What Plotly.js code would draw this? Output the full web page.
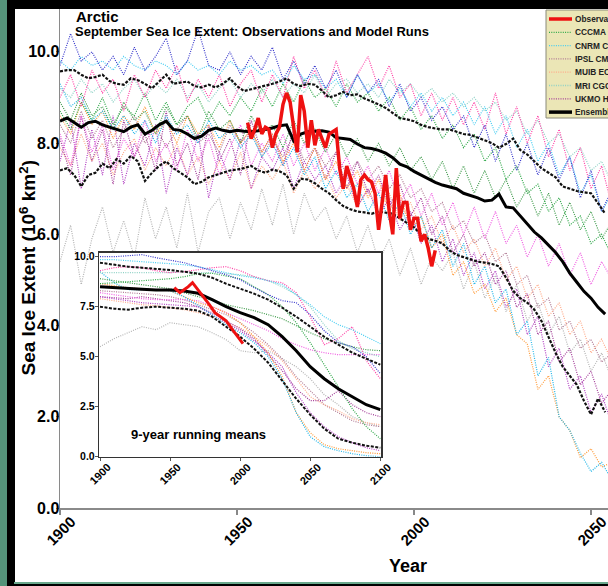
<!DOCTYPE html>
<html><head><meta charset="utf-8">
<script src="https://cdn.plot.ly/plotly-3.0.1.min.js"></script>
<style>
html,body{margin:0;padding:0;width:608px;height:586px;overflow:hidden;background:#55937a;}
#blk{position:absolute;left:7px;top:0;width:601px;height:586px;background:#000;}
#gl{position:absolute;left:14px;top:582px;width:594px;height:2px;background:#6aa88c;}
#chart{position:absolute;left:15px;top:9px;width:593px;height:573px;background:#fff;overflow:hidden;}
</style></head><body>
<div id="blk"></div><div id="gl"></div><div id="chart"></div>
<script>
// ---------- main panel: annual model runs (sampled every 3 years) ----------
const years3 = [1900,1903,1906,1909,1912,1915,1918,1921,1924,1927,1930,1933,1936,1939,1942,1945,1948,1951,1954,1957,1960,1963,1966,1969,1972,1975,1978,1981,1984,1987,1990,1993,1996,1999,2002,2005,2008,2011,2014,2017,2020,2023,2026,2029,2032,2035,2038,2041,2044,2047,2050,2053,2056];
const runBlue    = [9.7,10.4,9.8,10.0,9.6,9.9,9.5,10.1,9.6,9.9, 10.3,9.5,9.8,10.5,9.7,9.6,10.0,9.5,9.9,9.6, 10.1,9.4,9.8,9.3,9.7,9.2,9.6,9.0,9.5,9.1, 9.4,8.8,9.3,8.7,9.0,8.5,8.8,8.3,8.6,7.9, 8.4,7.6,8.2,7.4,8.0,7.3,7.9,7.2,7.7,6.8, 7.4,6.5,7.0];
const runCNRM    = [9.8,9.6,9.9,9.7,9.8,9.6,9.9,9.7,9.6,9.8, 9.7,9.5,9.8,9.6,9.7,9.5,9.8,9.6,9.7,9.5, 9.6,9.3,9.7,9.4,9.5,9.2,9.4,9.0,9.5,9.1, 9.3,8.9,9.2,8.8,9.1,8.7,9.0,8.6,8.9,8.4, 8.8,8.2,8.6,7.9,8.3,7.6,8.0,7.3,7.7,6.9, 7.3,6.5,6.9];
const runPink    = [9.0,9.5,8.8,9.6,9.1,9.4,8.7,9.5,9.0,9.6, 9.2,9.7,8.9,9.4,9.0,9.5,8.8,9.3,9.6,8.9, 9.5,9.0,9.9,9.2,9.6,9.0,9.8,9.1,9.5,9.9, 9.2,9.7,9.0,9.3,8.6,9.1,8.5,9.0,8.4,8.9, 8.3,9.1,8.2,8.8,8.0,8.6,7.7,8.3,7.4,7.9, 7.0,7.5,6.6];
const runCCCMA   = [8.7,8.3,8.9,8.5,9.0,8.4,8.8,8.6,9.1,8.5, 8.9,8.4,8.8,9.0,8.5,8.9,8.6,9.0,8.7,9.2, 8.8,9.3,8.9,9.4,9.0,9.2,8.8,9.3,8.9,9.1, 8.7,9.0,8.5,8.8,8.3,8.6,8.1,8.4,7.9,8.2, 7.6,7.9,7.2,7.5,6.9,7.1,6.5,6.8,6.2,6.4, 5.8,6.0,5.5];
const runGreen2  = [8.9,8.5,9.1,8.6,8.8,8.3,8.9,8.5,8.7,8.2, 8.8,8.4,8.6,8.1,8.7,8.3,8.5,8.0,8.6,8.2, 8.4,7.9,8.5,8.0,8.3,7.8,8.2,7.7,8.1,7.6, 8.0,7.5,7.9,7.4,7.7,7.2,7.6,7.0,7.5,6.9, 7.4,6.8,7.2,6.6,7.0,6.4,6.9,6.2,6.7,6.1, 6.5,5.9,6.3];
const runViolet  = [7.6,8.5,7.0,8.3,7.3,8.6,7.1,8.0,7.5,8.4, 6.9,7.9,7.3,8.2,6.8,7.8,7.2,8.1,7.0,7.7, 7.4,7.9,7.0,7.6,7.2,7.5,6.9,7.3,6.6,7.0, 6.4,6.8,6.1,6.5,5.8,6.2,5.4,5.9,5.1,5.6, 4.8,5.2,4.4,4.8,3.8,4.2,3.1,3.5,2.6,2.9, 2.1,2.5,1.8];
const runMagenta = [8.2,7.5,8.6,7.8,8.4,7.4,8.1,7.7,8.5,7.6, 8.0,7.4,8.3,7.6,8.1,7.3,7.9,8.4,7.5,8.0, 7.6,8.2,7.5,8.0,7.4,7.9,7.3,7.7,7.1,7.5, 6.9,7.4,6.7,7.1,6.4,6.9,6.2,6.7,6.0,6.6, 5.9,6.5,5.8,6.2,5.5,6.0,5.3,5.8,5.1,5.6, 4.9,5.4,5.0];
const runOrange  = [8.6,8.2,8.9,8.4,8.7,8.1,8.6,8.3,8.8,8.2, 8.5,8.0,8.6,8.2,8.4,7.9,8.5,8.0,8.3,7.8, 8.2,7.6,8.0,7.4,7.9,7.2,7.6,7.0,7.4,6.8, 7.2,6.5,6.9,6.1,6.4,5.7,6.0,5.1,5.4,4.7, 4.9,4.3,4.6,3.8,3.6,2.6,2.9,2.0,1.7,1.1, 1.3,0.9,1.0];
const runCyan2   = [9.3,8.8,9.0,8.5,8.7,8.3,8.6,8.2,8.5,8.0, 8.6,8.2,8.4,8.0,8.5,8.1,8.3,7.9,8.2,7.7, 8.0,7.5,7.9,7.3,7.7,7.0,7.4,6.8,7.1,6.5, 6.9,6.3,6.7,6.0,6.4,5.7,6.1,5.3,5.8,4.9, 5.3,4.5,4.8,3.8,4.1,2.9,3.3,2.0,1.7,1.2, 0.8,1.0,0.6];
const runGrey    = [5.4,6.2,4.9,5.9,6.6,5.6,6.3,5.5,6.8,5.9, 6.6,5.7,6.9,5.6,6.5,6.8,5.9,6.7,6.1,7.0, 6.2,7.1,6.0,6.9,6.3,6.6,5.9,6.4,5.6,6.2, 5.4,5.9,5.1,5.7,4.9,5.5,5.2,5.6,4.8,5.4, 4.6,5.1,4.3,4.9,4.1,4.5,3.8,4.2,3.4,3.7, 3.0,3.4,2.8];
const runMUIB    = [7.9,7.5,8.2,7.6,8.0,7.3,7.8,8.1,7.4,7.9, 7.5,8.0,7.3,7.7,7.1,7.6,7.2,7.8,7.0,7.5, 7.2,7.6,6.9,7.4,7.0,7.3,6.8,7.1,6.6,7.0, 6.5,6.9,6.3,6.7,6.1,6.4,5.8,6.2,5.6,5.9, 5.3,5.7,5.0,5.3,4.6,4.9,4.2,4.5,3.8,4.1, 3.4,3.7,3.2];
const runMRI     = [9.2,9.0,9.4,9.1,9.3,8.9,9.2,9.4,9.0,9.3, 9.1,9.4,9.0,9.3,8.9,9.2,9.4,9.0,9.3,9.1, 9.4,9.0,9.3,9.1,9.5,9.0,9.3,9.4,9.1,9.3, 9.0,9.4,9.1,9.3,9.0,9.2,8.9,9.1,8.8,9.0, 8.7,8.9,8.5,8.7,8.2,8.5,8.0,8.2,7.7,7.9, 7.4,7.6,7.1];
const runUKMO    = [8.1,7.3,8.6,7.6,8.3,7.1,8.5,7.7,8.2,7.4, 8.7,7.5,8.0,7.2,8.4,7.6,8.1,7.3,8.5,7.8, 8.2,7.5,8.3,7.4,7.9,7.2,7.8,7.0,7.6,6.9, 7.3,6.6,7.1,6.4,6.8,6.0,6.4,5.6,6.0,5.3, 5.6,4.9,5.2,4.4,4.7,3.8,4.1,3.2,3.5,2.7, 3.0,2.3,2.6];
const runIPSL    = [8.4,8.0,8.7,8.1,8.5,7.9,8.3,8.6,8.0,8.4, 7.9,8.3,8.6,8.0,8.2,7.8,8.4,8.0,8.3,7.7, 8.1,7.7,8.2,7.6,7.9,7.5,7.8,7.3,7.6,7.2, 7.5,7.0,7.3,6.8,7.0,6.5,6.7,6.1,6.3,5.8, 6.0,5.4,5.6,4.9,5.1,4.4,4.6,3.9,4.1,3.5, 3.7,3.2,3.4];

// ---------- main panel: ensemble mean and +/- one standard deviation ----------
const ensYears = [1900,1902,1904,1906,1908,1910,1912,1914,1916,1918,1920,1922,1924,1926,1928,1930,1932,1934,1936,1938,1940,1942,1944,1946,1948,1950,1952,1954,1956,1958,1960,1962,1964,1966,1968,1970,1972,1974,1976,1978,1980,1982,1984,1986,1988,1990,1992,1994,1996,1998,2000,2002,2004,2006,2008,2010,2012,2014,2016,2018,2020,2022,2024,2026,2028,2030,2032,2034,2036,2038,2040,2042,2044,2046,2048,2050,2052,2054];
const ensMean  = [8.48,8.55,8.45,8.35,8.45,8.48,8.40,8.35,8.30,8.25, 8.35,8.40,8.20,8.28,8.40,8.48,8.30,8.28,8.20,8.10, 8.15,8.28,8.33,8.28,8.25,8.28,8.26,8.25,8.27,8.30, 8.33,8.38,8.40,8.05,8.20,8.25,8.26,8.27,8.24,8.12, 8.10,8.08,7.98,7.90,7.88,7.84,7.78,7.68,7.54,7.48, 7.38,7.30,7.22,7.14,7.08,7.04,7.00,6.90,6.85,6.80, 6.73,6.75,6.88,6.60,6.58,6.40,6.22,6.05,5.92,5.75, 5.60,5.40,5.15,4.95,4.75,4.60,4.40,4.25];
const ensUpper = [9.57,9.60,9.60,9.50,9.42,9.45,9.50,9.36,9.30,9.28, 9.42,9.38,9.30,9.20,9.35,9.50,9.30,9.32,9.35,9.25, 9.22,9.28,9.22,9.30,9.42,9.25,9.14,9.18,9.22,9.25, 9.30,9.35,9.42,9.30,9.25,9.30,9.28,9.15,9.00,9.05, 9.12,9.05,9.07,8.98,8.92,8.85,8.77,8.65,8.55,8.52, 8.48,8.40,8.35,8.32,8.30,8.30,8.25,8.20,8.18,8.12, 8.06,8.00,7.90,7.98,8.10,7.85,7.75,7.60,7.45,7.35, 7.25,7.05,7.00,6.95,6.92,6.90,6.68,6.45];
const ensLower = [7.40,7.45,7.30,7.05,7.30,7.35,7.55,7.45,7.65,7.55, 7.72,7.60,7.17,7.35,7.50,7.60,7.45,7.35,7.25,7.10, 7.15,7.25,7.30,7.35,7.40,7.42,7.45,7.50,7.40,7.35, 7.42,7.38,7.30,7.00,7.22,7.20,7.12,7.00,6.90,6.75, 6.62,6.55,6.50,6.48,6.45,6.50,6.48,6.45,6.35,6.25, 6.15,6.00,5.90,5.86,5.80,5.65,5.55,5.50,5.45,5.40, 5.38,5.35,5.30,5.05,4.76,4.60,4.50,4.35,4.10,3.75, 3.40,3.10,2.90,2.70,2.35,2.05,2.40,2.10];

// ---------- observations ----------
const obsYears = [1953,1954,1955,1956,1957,1958,1959,1960,1961,1962,1963,1964,1965,1966,1967,1968,1969,1970,1971,1972,1973,1974,1975,1976,1977,1978,1979,1980,1981,1982,1983,1984,1985,1986,1987,1988,1989,1990,1991,1992,1993,1994,1995,1996,1997,1998,1999,2000,2001,2002,2003,2004,2005,2006];
const obsExtent = [8.45,8.10,8.30,8.55,8.20,8.35,8.30,7.90,8.20,8.35, 8.85,9.10,8.90,8.30,7.80,9.05,8.70,7.90,8.50,7.95, 8.30,8.10,7.90,8.20,8.25,8.30,7.45,7.00,7.50,7.25, 7.00,6.60,7.20,7.30,7.20,7.15,6.90,6.10,6.70,7.30, 6.50,6.00,7.45,6.35,6.70,6.70,6.10,6.35,6.35,5.85, 6.00,5.70,5.30,5.65];

// ---------- inset: 9-year running means ----------
const decYears = [1900,1910,1920,1930,1940,1950,1960,1970,1980,1990,2000,2010,2020,2030,2040,2050,2060,2070,2080,2090,2100];
const rmBlue    = [10.0,10.0,10.05,10.1,9.95,9.83,9.7,9.5,9.3,9.1,8.85,8.45,8.1,7.8,7.7,7.1,6.3,5.7,5.5,5.0,4.15];
const rmCNRM    = [9.85,9.85,9.8,9.75,9.7,9.65,9.6,9.5,9.35,9.2,9.05,8.95,8.8,8.6,8.1,7.6,7.0,6.6,6.35,6.0,5.65];
const rmPink    = [9.3,9.45,9.5,9.45,9.3,9.2,9.25,9.35,9.45,9.5,9.3,9.0,8.8,8.7,8.2,7.0,5.6,5.9,6.5,4.8,3.9];
const rmCCCMA   = [8.65,8.7,8.75,8.8,8.83,8.9,9.0,9.15,9.17,9.05,8.9,8.5,8.1,7.5,6.7,5.7,4.6,3.5,2.4,1.5,0.9];
const rmGreen2  = [8.9,8.8,8.7,8.6,8.5,8.4,8.2,8.0,7.85,7.6,7.45,7.3,7.1,6.9,6.55,6.2,5.9,5.7,5.5,5.35,5.3];
const rmViolet  = [8.0,7.9,7.8,7.7,7.65,7.6,7.55,7.5,7.1,6.7,6.3,5.8,5.2,4.5,3.2,2.2,1.5,1.0,0.7,0.45,0.3];
const rmMagenta = [8.2,8.1,8.0,7.9,7.85,7.85,7.85,7.8,7.5,7.2,6.9,6.6,6.3,5.9,5.6,5.35,5.2,5.1,5.1,5.1,5.1];
const rmOrange  = [8.65,8.55,8.45,8.4,8.35,8.3,8.0,7.7,7.5,7.2,6.7,6.0,5.2,4.0,2.2,1.2,0.6,0.4,0.3,0.2,0.15];
const rmCyan2   = [9.25,8.7,8.35,8.35,8.35,8.3,8.0,7.55,7.1,6.6,6.2,5.7,5.0,3.9,2.2,1.0,0.5,0.3,0.15,0.05,0.0];
const rmGrey    = [5.5,5.9,6.2,6.5,6.35,6.7,6.6,6.5,6.2,5.85,5.3,5.2,5.3,4.9,4.5,3.9,3.1,2.6,2.0,1.7,1.5];
const rmMUIB    = [7.9,7.8,7.7,7.6,7.55,7.45,7.35,7.2,7.0,6.7,6.45,6.0,5.5,4.8,3.9,3.0,2.6,2.3,1.9,1.7,1.6];
const rmMRI     = [9.2,9.2,9.2,9.2,9.2,9.2,9.25,9.2,9.2,9.15,9.1,9.0,8.8,8.5,8.1,7.5,6.6,5.8,5.4,5.2,5.0];
const rmUKMO    = [8.0,7.95,7.9,8.0,7.9,7.8,7.7,7.5,7.2,6.8,6.4,5.9,5.1,4.3,3.4,2.8,2.8,3.3,2.6,2.2,2.0];
const rmIPSL    = [8.3,8.25,8.2,8.15,8.1,8.0,7.85,7.6,7.35,7.1,6.7,6.2,5.6,4.9,4.0,3.3,2.6,2.2,1.8,1.6,1.5];
const rmEnsMean  = [8.5,8.45,8.4,8.37,8.34,8.33,8.28,8.17,7.85,7.5,7.2,6.95,6.6,6.0,5.3,4.5,3.9,3.4,3.0,2.6,2.35];
const rmEnsUpper = [9.7,9.6,9.5,9.45,9.4,9.33,9.25,9.15,8.95,8.65,8.4,8.15,7.85,7.45,7.0,6.5,6.0,5.6,5.2,4.9,4.6];
const rmEnsLower = [7.5,7.4,7.35,7.45,7.5,7.45,7.4,7.3,7.0,6.5,6.0,5.4,4.7,3.8,2.9,2.1,1.4,0.9,0.7,0.55,0.45];
const rmObsYears = [1953,1957,1960,1963,1966,1970,1974,1978,1982,1986,1990,1994,1998,2002];
const rmObs      = [8.45,8.2,8.35,8.5,8.7,8.35,8.0,7.6,7.2,7.0,6.8,6.4,6.0,5.65];

// ---------- text ----------
const mainTicks = [1900,1950,2000,2050];
const insetTicks = [1900,1950,2000,2050,2100];
const legendNames = ['Observations','CCCMA CGCM3.1','CNRM CM3','IPSL CM4','MUIB ECHO-G','MRI CGCM2.3.2','UKMO HadCM3','Ensemble mean'];

// ---------- styling ----------
const FONT = 'Liberation Sans, Arial, Helvetica, sans-serif';
const DOT = '1px,1.3px';
const runs = [
  [runGrey, rmGrey, '#b4b4b4'],
  [runIPSL, rmIPSL, '#b07a94'],
  [runMUIB, rmMUIB, '#ffab8a'],
  [runUKMO, rmUKMO, '#a33c98'],
  [runViolet, rmViolet, '#b23fc2'],
  [runMagenta, rmMagenta, '#f05ee2'],
  [runOrange, rmOrange, '#ff9a38'],
  [runCyan2, rmCyan2, '#22b6e8'],
  [runGreen2, rmGreen2, '#3e9a4a'],
  [runCCCMA, rmCCCMA, '#2ea848'],
  [runMRI, rmMRI, '#8fd2c6'],
  [runPink, rmPink, '#ff40a6'],
  [runCNRM, rmCNRM, '#46cdf2'],
  [runBlue, rmBlue, '#3838cc']
];
const traces = [];
runs.forEach(r => {
  traces.push({x: years3, y: r[0], type:'scatter', mode:'lines', line:{color:r[2], width:1.2, dash:DOT}, xaxis:'x', yaxis:'y', hoverinfo:'skip', showlegend:false});
});
traces.push({x: ensYears, y: ensUpper, type:'scatter', mode:'lines', line:{color:'#111', width:2.2, dash:'3px,1.5px'}, hoverinfo:'skip', showlegend:false});
traces.push({x: ensYears, y: ensLower, type:'scatter', mode:'lines', line:{color:'#111', width:2.2, dash:'3px,1.5px'}, hoverinfo:'skip', showlegend:false});
traces.push({x: ensYears, y: ensMean, type:'scatter', mode:'lines', line:{color:'#000', width:3}, hoverinfo:'skip', showlegend:false});
traces.push({x: obsYears, y: obsExtent, type:'scatter', mode:'lines', line:{color:'#ee1111', width:3.5}, hoverinfo:'skip', showlegend:false});
runs.forEach(r => {
  traces.push({x: decYears, y: r[1], type:'scatter', mode:'lines', line:{color:r[2], width:1.2, dash:DOT}, xaxis:'x2', yaxis:'y2', hoverinfo:'skip', showlegend:false});
});
traces.push({x: decYears, y: rmEnsUpper, type:'scatter', mode:'lines', line:{color:'#111', width:2, dash:'3px,1.5px'}, xaxis:'x2', yaxis:'y2', hoverinfo:'skip', showlegend:false});
traces.push({x: decYears, y: rmEnsLower, type:'scatter', mode:'lines', line:{color:'#111', width:2, dash:'3px,1.5px'}, xaxis:'x2', yaxis:'y2', hoverinfo:'skip', showlegend:false});
traces.push({x: decYears, y: rmEnsMean, type:'scatter', mode:'lines', line:{color:'#000', width:3}, xaxis:'x2', yaxis:'y2', hoverinfo:'skip', showlegend:false});
traces.push({x: rmObsYears, y: rmObs, type:'scatter', mode:'lines', line:{color:'#ee1111', width:3}, xaxis:'x2', yaxis:'y2', hoverinfo:'skip', showlegend:false});

// paper helpers (plot area: page x 60..608, page y 9..508)
const px = p => (p - 60) / 548;
const py = p => (508 - p) / 499;

const annotations = [];
const bold = (size) => ({family: FONT, size: size, color: '#000', weight: 'bold'});
annotations.push({xref:'paper', yref:'paper', x:px(75), y:py(16), xanchor:'left', yanchor:'middle', borderpad:0, text:'Arctic', showarrow:false, font:bold(15)});
annotations.push({xref:'paper', yref:'paper', x:px(74), y:py(31.5), xanchor:'left', yanchor:'middle', borderpad:0, text:'September Sea Ice Extent: Observations and Model Runs', showarrow:false, font:bold(13)});
annotations.push({xref:'paper', yref:'paper', x:px(27.5), y:py(268), xanchor:'center', yanchor:'middle', textangle:-90, borderpad:0, text:'Sea Ice Extent (10<sup>6</sup> km<sup>2</sup>)', showarrow:false, font:bold(19)});
annotations.push({xref:'paper', yref:'paper', x:px(408), y:py(566), xanchor:'center', yanchor:'middle', text:'Year', showarrow:false, font:bold(18)});
mainTicks.forEach(t => annotations.push({xref:'x', yref:'paper', x:t, y:py(531), xanchor:'center', yanchor:'middle', textangle:-45, text:String(t), showarrow:false, font:bold(15)}));
insetTicks.forEach(t => annotations.push({xref:'x2', yref:'paper', x:t, y:py(474), xanchor:'center', yanchor:'middle', textangle:-45, text:String(t), showarrow:false, font:bold(11)}));
annotations.push({xref:'paper', yref:'paper', x:px(198), y:py(434), xanchor:'center', yanchor:'middle', text:'9-year running means', showarrow:false, font:bold(13)});

// hand-drawn legend (cropped at right edge like the reference)
const shapes = [];
shapes.push({type:'rect', xref:'paper', yref:'paper', x0:px(546), x1:px(640), y0:py(118), y1:py(10), fillcolor:'#ebe6b6', line:{color:'#8a8a7a', width:1}, layer:'above'});
const legStyles = [
  {color:'#ee1111', width:3.5, dash:'solid'},
  {color:'#2ea848', width:1.3, dash:DOT},
  {color:'#46cdf2', width:1.3, dash:DOT},
  {color:'#b07a94', width:1.3, dash:DOT},
  {color:'#ffab8a', width:1.3, dash:DOT},
  {color:'#8fd2c6', width:1.3, dash:DOT},
  {color:'#a33c98', width:1.3, dash:DOT},
  {color:'#000', width:3.5, dash:'solid'}
];
legendNames.forEach((n, i) => {
  const yc = 19 + 13.3 * i;
  shapes.push({type:'line', xref:'paper', yref:'paper', x0:px(549), x1:px(572), y0:py(yc), y1:py(yc), line:legStyles[i], layer:'above'});
  annotations.push({xref:'paper', yref:'paper', x:px(574), y:py(yc), xanchor:'left', yanchor:'middle', borderpad:0, text:n, showarrow:false, font:{family:FONT, size:8.3, color:'#222', weight:'bold'}});
});

const layout = {
  width: 593, height: 573,
  margin: {l:45, r:0, t:0, b:74, pad:0},
  paper_bgcolor: '#fff', plot_bgcolor: '#fff',
  showlegend: false,
  font: {family: FONT},
  xaxis: {range:[1900, 2054.8], tickvals: mainTicks, showticklabels:false, ticks:'outside', ticklen:5, tickcolor:'#888', tickwidth:1.2,
          showline:true, linecolor:'#8a8a8a', linewidth:1.5, zeroline:false, showgrid:false, fixedrange:true},
  yaxis: {range:[0, 10.94], tickvals:[0,2,4,6,8,10], ticktext:['0.0','2.0','4.0','6.0','8.0','10.0'], ticks:'outside', ticklen:3, tickcolor:'#888',
          ticklabelstandoff:-7,
          tickfont:{family:FONT, size:16, color:'#000', weight:'bold'}, showline:true, linecolor:'#8a8a8a', linewidth:1.5, zeroline:false, showgrid:false, fixedrange:true},
  xaxis2: {domain:[px(99.3), px(381)], anchor:'y2', range:[1899.5, 2100.5], tickvals: insetTicks, showticklabels:false, ticks:'outside', ticklen:3, tickcolor:'#555',
           showline:true, mirror:true, linecolor:'#333', linewidth:1.5, zeroline:false, showgrid:false, fixedrange:true},
  yaxis2: {domain:[py(456.7), py(252.7)], anchor:'x2', range:[0, 10.2], tickvals:[0,2.5,5,7.5,10], ticktext:['0.0','2.5','5.0','7.5','10.0'], ticks:'outside', ticklen:3, tickcolor:'#555',
           ticklabelstandoff:-2,
           tickfont:{family:FONT, size:10.5, color:'#000', weight:'bold'}, showline:true, mirror:true, linecolor:'#333', linewidth:1.5, zeroline:false, showgrid:false, fixedrange:true},
  annotations: annotations,
  shapes: shapes
};
Plotly.newPlot('chart', traces, layout, {displayModeBar:false, staticPlot:true});
</script>
</body></html>
